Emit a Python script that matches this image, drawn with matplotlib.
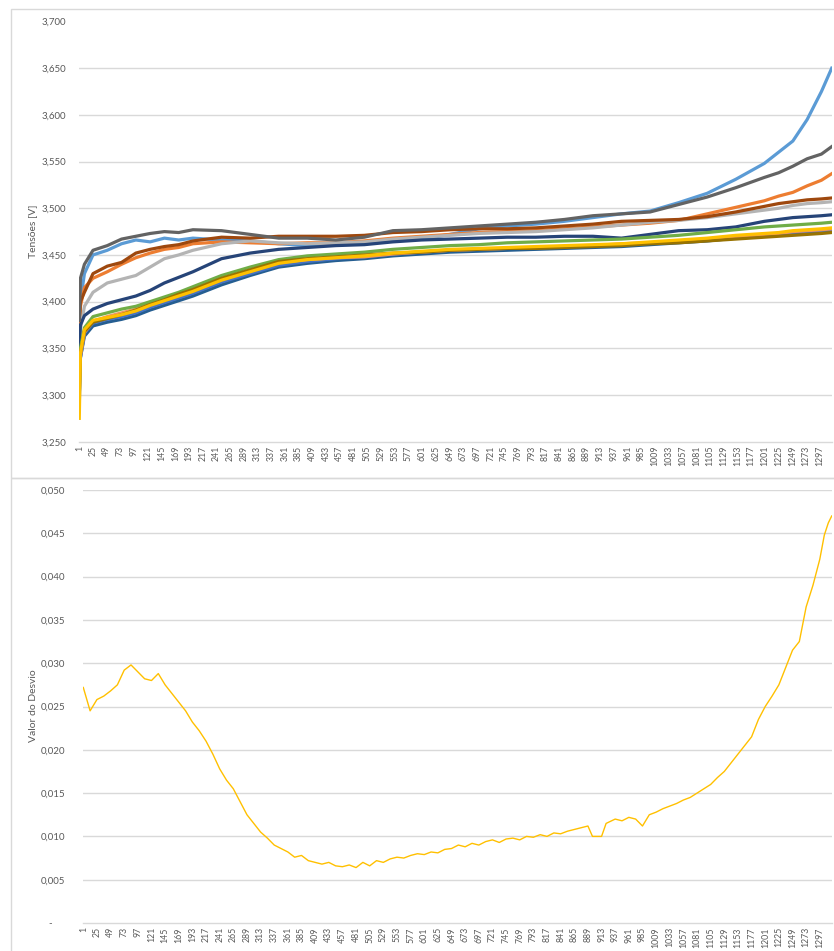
import numpy as np
import matplotlib.pyplot as plt
from matplotlib.patches import Rectangle
from matplotlib.ticker import FuncFormatter

plt.rcParams['font.family'] = ['Lato', 'DejaVu Sans']

# ---------------------------------------------------------------- data
N_SAMPLES = 1318
TICKS = list(range(1, 1298, 24))

# sample index of every stored cell voltage reading
x_cells = [1, 3, 10, 25, 50, 75, 100, 125, 150, 175, 200, 250, 300, 350, 400, 450,
           500, 550, 600, 650, 700, 750, 800, 850, 900, 950, 1000, 1050, 1100, 1150,
           1200, 1225, 1250, 1275, 1300, 1318]

v_light_blue = [3.345, 3.400, 3.430, 3.450, 3.455, 3.462, 3.466, 3.464, 3.468, 3.466, 3.468, 3.466,
                3.465, 3.462, 3.460, 3.461, 3.462, 3.465, 3.467, 3.472, 3.478, 3.481, 3.483, 3.486,
                3.490, 3.494, 3.497, 3.506, 3.516, 3.531, 3.548, 3.560, 3.572, 3.595, 3.625, 3.650]
v_orange = [3.360, 3.395, 3.415, 3.425, 3.432, 3.440, 3.447, 3.452, 3.456, 3.458, 3.462, 3.464,
            3.463, 3.462, 3.463, 3.463, 3.465, 3.468, 3.470, 3.472, 3.474, 3.475, 3.476, 3.478,
            3.480, 3.482, 3.484, 3.487, 3.494, 3.501, 3.508, 3.513, 3.517, 3.524, 3.530, 3.537]
v_gray = [3.350, 3.370, 3.395, 3.410, 3.420, 3.424, 3.428, 3.437, 3.446, 3.450, 3.455, 3.462,
          3.465, 3.463, 3.462, 3.463, 3.464, 3.467, 3.469, 3.471, 3.473, 3.474, 3.475, 3.477,
          3.479, 3.482, 3.485, 3.487, 3.490, 3.494, 3.498, 3.500, 3.503, 3.505, 3.506, 3.507]
v_gold = [3.275, 3.345, 3.370, 3.380, 3.383, 3.386, 3.390, 3.396, 3.401, 3.406, 3.411, 3.423,
          3.432, 3.441, 3.445, 3.447, 3.449, 3.452, 3.454, 3.456, 3.457, 3.458, 3.459, 3.460,
          3.461, 3.462, 3.464, 3.466, 3.468, 3.471, 3.473, 3.474, 3.476, 3.477, 3.478, 3.479]
v_blue = [3.290, 3.340, 3.366, 3.377, 3.381, 3.384, 3.388, 3.394, 3.399, 3.404, 3.409, 3.421,
          3.430, 3.439, 3.443, 3.446, 3.448, 3.451, 3.453, 3.455, 3.456, 3.457, 3.458, 3.459,
          3.460, 3.461, 3.463, 3.465, 3.467, 3.470, 3.472, 3.473, 3.474, 3.475, 3.476, 3.477]
v_green = [3.300, 3.350, 3.372, 3.384, 3.388, 3.392, 3.395, 3.400, 3.405, 3.410, 3.416, 3.428,
           3.437, 3.445, 3.449, 3.451, 3.453, 3.456, 3.458, 3.460, 3.461, 3.463, 3.464, 3.465,
           3.466, 3.467, 3.469, 3.471, 3.474, 3.477, 3.480, 3.481, 3.482, 3.483, 3.484, 3.485]
v_dark_blue = [3.300, 3.340, 3.363, 3.374, 3.378, 3.381, 3.385, 3.391, 3.396, 3.401, 3.406, 3.418,
               3.428, 3.437, 3.441, 3.444, 3.446, 3.449, 3.451, 3.453, 3.454, 3.455, 3.456, 3.457,
               3.458, 3.459, 3.461, 3.463, 3.465, 3.468, 3.470, 3.471, 3.472, 3.473, 3.474, 3.475]
v_brown = [3.380, 3.400, 3.410, 3.430, 3.438, 3.442, 3.452, 3.456, 3.459, 3.461, 3.465, 3.469,
           3.468, 3.470, 3.470, 3.470, 3.471, 3.474, 3.475, 3.477, 3.478, 3.478, 3.479, 3.481,
           3.483, 3.486, 3.487, 3.488, 3.491, 3.496, 3.502, 3.505, 3.507, 3.509, 3.510, 3.511]
v_dark_gray = [3.380, 3.425, 3.440, 3.455, 3.460, 3.467, 3.470, 3.473, 3.475, 3.474, 3.477, 3.476,
               3.472, 3.468, 3.468, 3.466, 3.469, 3.476, 3.477, 3.479, 3.481, 3.483, 3.485, 3.488,
               3.492, 3.494, 3.496, 3.504, 3.512, 3.522, 3.533, 3.538, 3.545, 3.553, 3.558, 3.566]
v_dark_gold = [3.310, 3.345, 3.368, 3.378, 3.382, 3.386, 3.391, 3.397, 3.402, 3.408, 3.413, 3.425,
               3.434, 3.443, 3.446, 3.448, 3.450, 3.452, 3.453, 3.455, 3.456, 3.457, 3.457, 3.458,
               3.459, 3.460, 3.462, 3.463, 3.465, 3.467, 3.469, 3.470, 3.471, 3.472, 3.473, 3.474]
v_navy = [3.350, 3.375, 3.385, 3.392, 3.398, 3.402, 3.406, 3.412, 3.420, 3.426, 3.432, 3.446,
          3.452, 3.456, 3.458, 3.460, 3.461, 3.464, 3.466, 3.467, 3.468, 3.469, 3.469, 3.470,
          3.470, 3.468, 3.472, 3.476, 3.477, 3.480, 3.486, 3.488, 3.490, 3.491, 3.492, 3.493]
v_light_orange = [3.300, 3.342, 3.367, 3.379, 3.384, 3.388, 3.392, 3.398, 3.403, 3.408, 3.412, 3.424,
                  3.433, 3.442, 3.445, 3.447, 3.448, 3.451, 3.453, 3.455, 3.456, 3.457, 3.458, 3.459,
                  3.460, 3.462, 3.463, 3.465, 3.467, 3.469, 3.472, 3.473, 3.475, 3.476, 3.477, 3.478]

# standard deviation between cells
x_dev = [1, 13, 25, 37, 49, 61, 73, 85, 97, 109, 121, 133, 145, 157, 169, 181, 193, 205, 217,
         229, 241, 253, 265, 277, 289, 301, 313, 325, 337, 349, 361, 373, 385, 397, 409, 421,
         433, 445, 457, 469, 481, 493, 505, 517, 529, 541, 553, 565, 577, 589, 601, 613, 625,
         637, 649, 661, 673, 685, 697, 709, 721, 733, 745, 757, 769, 781, 793, 805, 817, 829,
         841, 853, 865, 877, 889, 897, 913, 921, 937, 949, 961, 973, 985, 997, 1009, 1021,
         1033, 1045, 1057, 1069, 1081, 1093, 1105, 1117, 1129, 1141, 1153, 1165, 1177, 1189,
         1201, 1213, 1225, 1237, 1249, 1261, 1273, 1285, 1297, 1305, 1312, 1318]
desvio = [0.0272, 0.0245, 0.0258, 0.0262, 0.0268, 0.0275, 0.0292, 0.0298, 0.0290, 0.0282,
          0.0280, 0.0288, 0.0275, 0.0265, 0.0255, 0.0245, 0.0232, 0.0222, 0.0210, 0.0195,
          0.0178, 0.0165, 0.0155, 0.0140, 0.0125, 0.0115, 0.0105, 0.0098, 0.0090, 0.0086,
          0.0082, 0.0076, 0.0078, 0.0072, 0.0070, 0.0068, 0.0070, 0.0066, 0.0065, 0.0067,
          0.0064, 0.0070, 0.0066, 0.0072, 0.0070, 0.0074, 0.0076, 0.0075, 0.0078, 0.0080,
          0.0079, 0.0082, 0.0081, 0.0085, 0.0086, 0.0090, 0.0088, 0.0092, 0.0090, 0.0094,
          0.0096, 0.0093, 0.0097, 0.0098, 0.0096, 0.0100, 0.0099, 0.0102, 0.0100, 0.0104,
          0.0103, 0.0106, 0.0108, 0.0110, 0.0112, 0.0100, 0.0100, 0.0115, 0.0120, 0.0118,
          0.0122, 0.0120, 0.0112, 0.0125, 0.0128, 0.0132, 0.0135, 0.0138, 0.0142, 0.0145,
          0.0150, 0.0155, 0.0160, 0.0168, 0.0175, 0.0185, 0.0195, 0.0205, 0.0215, 0.0235,
          0.0250, 0.0262, 0.0275, 0.0295, 0.0315, 0.0325, 0.0365, 0.0390, 0.0420, 0.0448,
          0.0462, 0.0470]

# drawing order: later entries end up on top
cells = [
    (v_light_blue, '#5B9BD5'),
    (v_orange, '#ED7D31'),
    (v_gray, '#B4B4B4'),
    (v_navy, '#264478'),
    (v_brown, '#9E480E'),
    (v_dark_gray, '#636363'),
    (v_dark_blue, '#255E91'),
    (v_blue, '#4472C4'),
    (v_light_orange, '#F1975A'),
    (v_green, '#70AD47'),
    (v_dark_gold, '#997300'),
    (v_gold, '#FFC000'),
]

GRID = '#D9D9D9'
TXT = '#595959'
W, H = 834, 951


def comma(fmt, zero=None):
    def f(v, _):
        if zero is not None and abs(v) < 1e-12:
            return zero
        return format(v, fmt).replace('.', ',')
    return FuncFormatter(f)


def style(ax, pad):
    ax.set_xlim(0.5, N_SAMPLES + 0.5)
    ax.set_xticks(TICKS)
    ax.set_xticklabels([str(t) for t in TICKS], rotation=90, fontsize=6.3, color=TXT)
    ax.tick_params(axis='x', length=0, pad=3)
    ax.tick_params(axis='y', length=0, pad=pad, labelsize=7, labelcolor=TXT)
    for s in ('top', 'right', 'left'):
        ax.spines[s].set_visible(False)
    ax.spines['bottom'].set_color(GRID)
    ax.spines['bottom'].set_linewidth(1)
    ax.grid(True, axis='y', color=GRID, linewidth=1)
    ax.set_axisbelow(True)


def px_box(x0, y0, x1, y1):
    # pixel box (origin at the top-left) -> figure rect
    return [x0 / W, 1 - y1 / H, (x1 - x0) / W, (y1 - y0) / H]


fig = plt.figure(figsize=(W / 100, H / 100), dpi=100)
fig.patch.set_facecolor('white')

# outer chart frames
for y0, y1 in ((9, 478), (478, 960)):
    fig.patches.append(Rectangle((11 / W, 1 - y1 / H), 1, (y1 - y0) / H,
                                 transform=fig.transFigure, fill=False,
                                 edgecolor=GRID, linewidth=1))

# ---- cell voltages
ax1 = fig.add_axes(px_box(79, 21.5, 832, 441.7))
for vals, col in cells:
    ax1.plot(x_cells, vals, color=col, linewidth=2.3, solid_joinstyle='round')
ax1.set_ylim(3.25, 3.70)
ax1.set_yticks(np.arange(3.25, 3.701, 0.05))
ax1.yaxis.set_major_formatter(comma('.3f'))
style(ax1, pad=9)
ax1.get_ygridlines()[-1].set_visible(False)
ax1.get_ygridlines()[0].set_visible(False)
fig.text(33 / W, 1 - 231 / H, 'Tensões [V]', rotation=90, ha='center', va='center',
         fontsize=7.5, color=TXT)

# ---- deviation
ax2 = fig.add_axes(px_box(83, 490, 832, 923))
ax2.plot(x_dev, desvio, color='#FFC000', linewidth=1.0)
ax2.set_ylim(0, 0.050)
ax2.set_yticks(np.arange(0, 0.0501, 0.005))
ax2.yaxis.set_major_formatter(comma('.3f', zero='-     '))
style(ax2, pad=13)
ax2.get_ygridlines()[0].set_visible(False)
fig.text(33 / W, 1 - 706 / H, 'Valor do Desvio', rotation=90, ha='center', va='center',
         fontsize=7.5, color=TXT)

fig.savefig('out.png', dpi=100)
